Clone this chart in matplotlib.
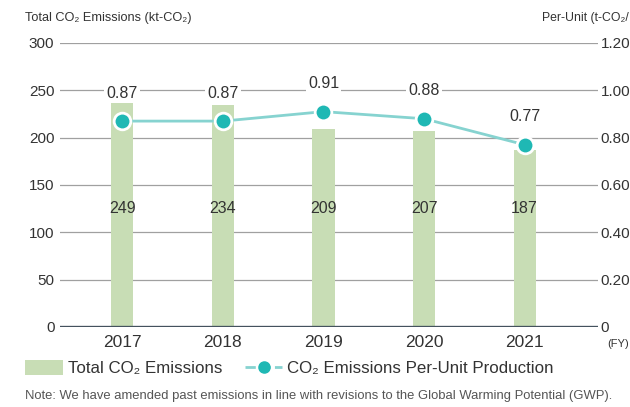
import matplotlib
matplotlib.use("Agg")
import matplotlib.pyplot as plt
from matplotlib.lines import Line2D
from matplotlib.patches import Patch

plt.rcParams["font.family"] = ["Liberation Sans", "DejaVu Sans"]

years = ["2017", "2018", "2019", "2020", "2021"]
total_emissions = [249, 234, 209, 207, 187]
per_unit = [0.87, 0.87, 0.91, 0.88, 0.77]
left_ticks = [0, 50, 100, 150, 200, 250, 300]
right_ticks = [0, 0.20, 0.40, 0.60, 0.80, 1.00, 1.20]

BAR_GREEN = "#c8ddb5"
TEAL = "#1fb8b4"
TEAL_LINE = "#86d3d0"
GRID = "#a0a0a0"
TEXT = "#333333"

fig = plt.figure(figsize=(6.30, 4.07), dpi=100)
ax = fig.add_axes([60 / 630, 1 - 327 / 407, 538 / 630, 284 / 407])
ax2 = ax.twinx()

x = list(range(len(years)))
ax.bar(x, total_emissions, width=0.22, color=BAR_GREEN, zorder=2)
for xi, v in zip(x, total_emissions):
    ax.text(xi, 125, str(v), ha="center", va="center", fontsize=11.5, color=TEXT, zorder=4)

ax.set_ylim(0, 300)
ax.set_xlim(-0.62, 4.73)
ax.set_yticks(left_ticks)
ax.set_yticklabels([str(t) for t in left_ticks], fontsize=11, color=TEXT)
for t in left_ticks[1:]:
    ax.axhline(t, color=GRID, lw=0.9, zorder=1)
ax.axhline(0, color="#44525e", lw=2.4, zorder=3)
ax.set_xticks(x)
ax.set_xticklabels(years, fontsize=12.5, color=TEXT)
ax.tick_params(axis="x", length=0, pad=6)
ax.tick_params(axis="y", length=0, pad=4)
for s in ax.spines.values():
    s.set_visible(False)
for s in ax2.spines.values():
    s.set_visible(False)

ax2.plot(x, per_unit, color=TEAL_LINE, lw=2, zorder=5)
ax2.plot(x, per_unit, "o", color=TEAL, markersize=12, markeredgecolor="white",
         markeredgewidth=2, zorder=6)
for xi, v in zip(x, per_unit):
    ax2.annotate(f"{v:.2f}", (xi, v), xytext=(0, 20), textcoords="offset points",
                 ha="center", va="center", fontsize=11.5, color=TEXT,
                 bbox=dict(boxstyle="square,pad=0.15", fc="white", ec="none"), zorder=7)
ax2.set_ylim(0, 1.2)
ax2.set_yticks(right_ticks)
ax2.set_yticklabels(["0"] + [f"{t:.2f}" for t in right_ticks[1:]], fontsize=11, color=TEXT)
ax2.tick_params(axis="y", length=0, pad=2)

fig.text(25 / 630, 1 - 18 / 407, "Total CO₂ Emissions (kt-CO₂)", fontsize=9.2,
         color=TEXT, va="center", ha="left")
fig.text(629 / 630, 1 - 18 / 407, "Per-Unit (t-CO₂/", fontsize=8.8,
         color=TEXT, va="center", ha="right")
fig.text(607 / 630, 1 - 344 / 407, "(FY)", fontsize=8, color=TEXT, va="center", ha="left")

handles = [Patch(facecolor=BAR_GREEN, edgecolor="none"),
           Line2D([], [], color=TEAL_LINE, lw=2, ls="--", marker="o", markersize=8,
                  markerfacecolor=TEAL, markeredgecolor=TEAL)]
fig.legend(handles, ["Total CO₂ Emissions", "CO₂ Emissions Per-Unit Production"],
           loc="center left", bbox_to_anchor=(10 / 630, 1 - 368 / 407), ncol=2,
           frameon=False, fontsize=12.2, handlelength=2.2, handleheight=1.0,
           columnspacing=1.35, handletextpad=0.3, labelcolor=TEXT)

fig.text(25 / 630, 1 - 396 / 407,
         "Note: We have amended past emissions in line with revisions to the Global Warming Potential (GWP).",
         fontsize=9.4, color="#555555", va="center", ha="left")

fig.savefig("out.png", dpi=100)
